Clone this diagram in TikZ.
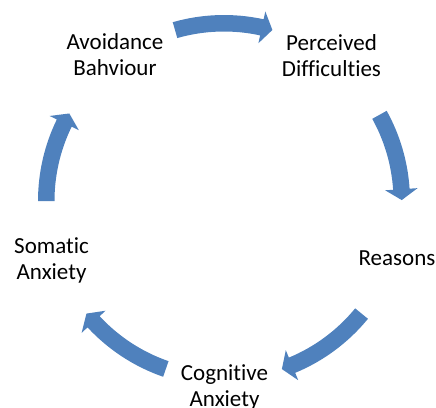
\documentclass[tikz,border=0pt]{standalone}
\usepackage{fontspec}
\setmainfont{Carlito}[Ligatures=NoCommon]
\definecolor{accentblue}{HTML}{4F81BD}
\begin{document}
\begin{tikzpicture}[x=1bp,y=1bp,
  lbl/.style={font=\fontsize{23bp}{26bp}\selectfont, align=center, inner sep=0pt, anchor=base},
  cyclearrow/.style={fill=accentblue, draw=none}]
\useasboundingbox (0,0) rectangle (436,407);
\node[lbl] (avoid) at (115,332) {Avoidance\\Bahviour};
\node[lbl] (perc) at (331.5,331) {Perceived\\Difficulties};
\node[lbl] (reas) at (397,142) {Reasons};
\node[lbl] (cogn) at (224.5,1) {Cognitive\\Anxiety};
\node[lbl] (soma) at (51.5,128) {Somatic\\Anxiety};
\begin{scope}[shift={(224,206)}]
\foreach \a/\b in {106/74.2, 29/0.3, -39.3/-71, -109.1/-140.7, 180/150.5} {
  \pgfmathsetmacro\h{\b+3.5}
  \fill[cyclearrow] (\a:186) arc[start angle=\a, end angle=\h, radius=186bp]
    -- (\h:194) -- (\b:177.75) -- (\h:161.5) -- (\h:169.5)
    arc[start angle=\h, end angle=\a, radius=169.5bp] -- cycle;
}
\end{scope}
\end{tikzpicture}
\end{document}
